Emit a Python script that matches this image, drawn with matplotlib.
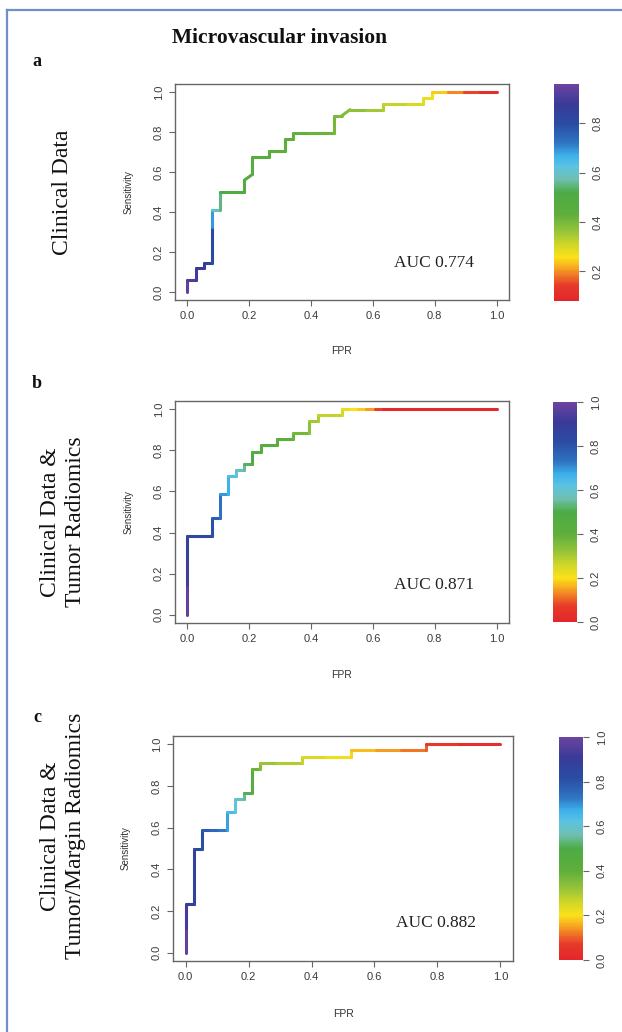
import numpy as np
import matplotlib
matplotlib.use("Agg")
import matplotlib.pyplot as plt
from matplotlib.collections import LineCollection
from matplotlib.colors import LinearSegmentedColormap, Normalize
from matplotlib.cm import ScalarMappable
from matplotlib.lines import Line2D

W, H = 622, 1032

# ROC steps as counts: false positives out of 38 negatives, true positives out of 34 positives
N_NEG, N_POS = 38, 34

fp_a = [0, 0, 1, 1, 2, 2, 3, 3, 3, 4, 4, 7, 7, 8, 8, 10, 10, 12, 12, 13, 13, 15, 18, 18, 19,
        20, 22, 24, 24, 27, 29, 29, 30, 30, 32, 34, 36, 38]
tp_a = [0, 2, 2, 4, 4, 5, 5, 11, 14, 14, 17, 17, 19, 20, 23, 23, 24, 24, 26, 26, 27, 27, 27, 30, 30,
        31, 31, 31, 32, 32, 32, 33, 33, 34, 34, 34, 34, 34]
cut_a = [0.96, 0.92, 0.90, 0.88, 0.87, 0.86, 0.85, 0.76, 0.62, 0.58, 0.52, 0.50, 0.49, 0.48, 0.47,
         0.46, 0.45, 0.44, 0.44, 0.43, 0.43, 0.42, 0.41, 0.40, 0.39, 0.38, 0.36, 0.34, 0.33, 0.31,
         0.29, 0.28, 0.27, 0.26, 0.22, 0.17, 0.13, 0.08]

fp_b = [0, 0, 0, 0, 1, 2, 3, 3, 4, 4, 5, 5, 6, 6, 7, 7, 8, 8, 9, 9, 11, 11, 13, 13, 15, 15, 16, 16,
        19, 19, 20, 21, 22, 23, 24, 38]
tp_b = [0, 5, 9, 13, 13, 13, 13, 16, 16, 20, 20, 23, 23, 24, 24, 25, 25, 27, 27, 28, 28, 29, 29, 30,
        30, 32, 32, 33, 33, 34, 34, 34, 34, 34, 34, 34]
cut_b = [1.0, 0.95, 0.90, 0.86, 0.84, 0.83, 0.82, 0.79, 0.76, 0.71, 0.68, 0.65, 0.62, 0.60, 0.56,
         0.53, 0.50, 0.47, 0.45, 0.44, 0.42, 0.41, 0.39, 0.38, 0.35, 0.32, 0.30, 0.29, 0.26, 0.24,
         0.21, 0.19, 0.17, 0.12, 0.03, 0.0]

fp_c = [0, 0, 0, 1, 1, 2, 2, 3, 4, 5, 5, 6, 6, 7, 7, 8, 8, 9, 9, 11, 14, 14, 17, 20, 20, 23, 26,
        29, 29, 33, 38]
tp_c = [0, 4, 8, 8, 17, 17, 20, 20, 20, 20, 23, 23, 25, 25, 26, 26, 30, 30, 31, 31, 31, 32, 32, 32,
        33, 33, 33, 33, 34, 34, 34]
cut_c = [1.0, 0.95, 0.90, 0.88, 0.84, 0.82, 0.80, 0.77, 0.74, 0.71, 0.66, 0.63, 0.60, 0.56, 0.53,
         0.49, 0.40, 0.36, 0.33, 0.31, 0.28, 0.26, 0.23, 0.20, 0.18, 0.16, 0.13, 0.11, 0.09, 0.05,
         0.02]

auc_labels = ["AUC 0.774", "AUC 0.871", "AUC 0.882"]
row_labels = ["Clinical Data", "Clinical Data &\nTumor Radiomics",
              "Clinical Data &\nTumor/Margin Radiomics"]
panel_letters = ["a", "b", "c"]
cbar_ranges = [(0.08, 0.96), (0.0, 1.0), (0.0, 1.0)]
cbar_ticks = [[0.2, 0.4, 0.6, 0.8], [0.0, 0.2, 0.4, 0.6, 0.8, 1.0], [0.0, 0.2, 0.4, 0.6, 0.8, 1.0]]

# colour key like the R rainbow-ish ramp (red at low cutoff, purple at high)
cmap = LinearSegmentedColormap.from_list("roc", [
    (0.00, "#e3262b"), (0.07, "#e63a2a"), (0.12, "#f07a26"), (0.16, "#f7b21f"),
    (0.20, "#fbe11a"), (0.26, "#cfd628"), (0.32, "#96c43a"), (0.40, "#5eae3c"),
    (0.50, "#4dab45"), (0.56, "#70bfae"), (0.62, "#5cc3e2"), (0.67, "#3db2ea"),
    (0.73, "#2f73c2"), (0.82, "#2a4ca2"), (0.91, "#3a3a98"), (1.00, "#6d43a0")])

fig = plt.figure(figsize=(W / 100, H / 100), dpi=100)
plt.rcParams['font.family'] = ['Liberation Sans', 'DejaVu Sans']


def box(l, t, r, b):
    return [l / W, 1 - b / H, (r - l) / W, (b - t) / H]


ax_boxes = [(175, 84, 509, 300), (175, 401, 509, 623), (173, 736, 513, 961)]
cb_boxes = [(554, 84, 579, 301), (553, 402, 577, 622), (559, 737, 583, 960)]
row_y = [192, 522, 836]
letter_y = [62, 384, 718]
serif = 'Liberation Serif'
grey = '#666666'

panels = [(fp_a, tp_a, cut_a), (fp_b, tp_b, cut_b), (fp_c, tp_c, cut_c)]

for i, (fp, tp, cut) in enumerate(panels):
    ax = fig.add_axes(box(*ax_boxes[i]))
    fpr = np.array(fp) / N_NEG
    tpr = np.array(tp) / N_POS
    cut = np.array(cut)
    norm = Normalize(*cbar_ranges[i])

    pts = np.column_stack([fpr, tpr])
    segs = np.stack([pts[:-1], pts[1:]], axis=1)
    seg_col = cmap(norm((cut[:-1] + cut[1:]) / 2))
    lc = LineCollection(segs, colors=seg_col, linewidths=2.2, capstyle='round')
    ax.add_collection(lc)

    ax.set_xlim(-0.04, 1.04)
    ax.set_ylim(-0.04, 1.04)
    ticks = np.arange(0, 1.01, 0.2)
    ax.set_xticks(ticks)
    ax.set_yticks(ticks)
    ax.set_xticklabels([f"{t:.1f}" for t in ticks])
    ax.set_yticklabels([f"{t:.1f}" for t in ticks], rotation=90, va='center')
    for s in ax.spines.values():
        s.set_color(grey)
        s.set_linewidth(1.0)
    ax.tick_params(direction='out', length=4, width=0.8, color=grey,
                   labelsize=8, labelcolor='#3a3a3a', pad=4)

    ax.text(-0.14, 0.5, "Sensitivity", transform=ax.transAxes, rotation=90,
            ha='center', va='center', fontsize=7, color='#333333')
    ax.text(0.5, -0.235, "FPR", transform=ax.transAxes, ha='center', va='center',
            fontsize=7.5, color='#333333')
    ax.text(0.775, 0.17, auc_labels[i], transform=ax.transAxes, ha='center', va='center',
            fontsize=12.5, family=serif, color='#222222')

    cax = fig.add_axes(box(*cb_boxes[i]))
    cb = fig.colorbar(ScalarMappable(norm=norm, cmap=cmap), cax=cax)
    cb.outline.set_visible(False)
    cb.set_ticks(cbar_ticks[i])
    cax.set_yticklabels([f"{t:.1f}" for t in cbar_ticks[i]], rotation=90, va='center')
    cax.tick_params(direction='out', length=4, width=0.8, color=grey,
                    labelsize=8, labelcolor='#3a3a3a', pad=6)

    fig.text(63 / W, 1 - row_y[i] / H, row_labels[i], rotation=90, ha='center',
             va='center', fontsize=17, family=serif, linespacing=1.25, color='#111111')
    fig.text(37 / W, 1 - letter_y[i] / H, panel_letters[i], ha='center', va='center',
             fontsize=13, family=serif, fontweight='bold', color='#111111')

fig.text(280 / W, 1 - 38 / H, "Microvascular invasion", ha='center', va='center',
         fontsize=15.5, family=serif, fontweight='bold', color='#111111')

# thin blue frame on the left and top
frame_col = '#6f8fc8'
fig.add_artist(Line2D([7 / W, 7 / W], [0, 1 - 10 / H], color=frame_col, lw=1.6))
fig.add_artist(Line2D([7 / W, 1], [1 - 10 / H, 1 - 10 / H], color=frame_col, lw=1.6))

fig.savefig("out.png", dpi=100)
